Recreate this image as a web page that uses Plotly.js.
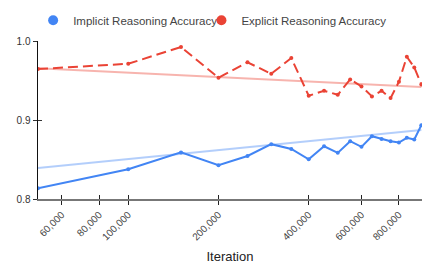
<!DOCTYPE html>
<html>
<head>
<meta charset="utf-8">
<script src="https://cdn.plot.ly/plotly-3.0.1.min.js"></script>
<style>html,body{margin:0;padding:0;background:#fff;}#chart{width:436px;height:270px;}</style>
</head>
<body>
<div id="chart"></div>
<script>
const iterations = [50000,100000,150000,200000,250000,300000,350000,400000,450000,500000,550000,600000,650000,700000,750000,800000,850000,900000,950000];
const implicitAcc = [0.8136,0.8377,0.859,0.8427,0.8545,0.8694,0.8634,0.8503,0.8668,0.8584,0.8732,0.866,0.8795,0.8761,0.8732,0.8715,0.8774,0.8753,0.8935];
const explicitAcc = [0.9645,0.9712,0.9924,0.9535,0.973,0.9585,0.9784,0.9307,0.937,0.9319,0.9514,0.9425,0.9299,0.937,0.9277,0.9484,0.980,0.9666,0.945];
const tickVals = [60000,80000,100000,200000,400000,600000,800000];
const tickText = ["60,000","80,000","100,000","200,000","400,000","600,000","800,000"];
const seriesNames = ["Implicit Reasoning Accuracy","Explicit Reasoning Accuracy"];

// linear least-squares trend (in data space), drawn between first and last iteration
function linTrend(xs, ys){
  const n = xs.length;
  const mx = xs.reduce((a,b)=>a+b,0)/n, my = ys.reduce((a,b)=>a+b,0)/n;
  let sxy=0,sxx=0;
  for(let i=0;i<n;i++){sxy+=(xs[i]-mx)*(ys[i]-my);sxx+=(xs[i]-mx)**2;}
  const b=sxy/sxx, a=my-b*mx;
  const ends=[xs[0],xs[n-1]];
  return {x:ends,y:ends.map(v=>a+b*v)};
}
const blue='#4285F4', red='#EA4335';
const font='Liberation Sans, Arial, sans-serif';
const tb=linTrend(iterations,implicitAcc), tr=linTrend(iterations,explicitAcc);
const traces = [
  {x:tb.x,y:tb.y,mode:'lines',line:{color:'rgba(66,133,244,0.4)',width:2},showlegend:false,hoverinfo:'skip'},
  {x:tr.x,y:tr.y,mode:'lines',line:{color:'rgba(234,67,53,0.4)',width:2},showlegend:false,hoverinfo:'skip'},
  {x:iterations,y:implicitAcc,mode:'lines+markers',line:{color:blue,width:2},marker:{color:blue,size:4},showlegend:false},
  {x:iterations,y:explicitAcc,mode:'lines+markers',line:{color:red,width:2,dash:'10px,5px'},marker:{color:red,size:4},showlegend:false},
  {x:[null],y:[null],mode:'markers',marker:{color:blue,size:10},name:seriesNames[0],legend:'legend'},
  {x:[null],y:[null],mode:'markers',marker:{color:red,size:10},name:seriesNames[1],legend:'legend2'},
  {x:[null],y:[null],xaxis:'x2',yaxis:'y2',showlegend:false,hoverinfo:'skip'}
];
const xr=[Math.log10(50000),Math.log10(955000)];
const legBase={orientation:'h',xref:'container',yref:'container',xanchor:'left',y:0.925,yanchor:'middle',
    font:{size:11.5,color:'#444'},itemwidth:30,bgcolor:'rgba(0,0,0,0)'};
const layout = {
  width:436,height:270,
  margin:{l:38,r:14,t:41,b:71},
  paper_bgcolor:'#fff',plot_bgcolor:'#fff',
  font:{family:font,size:10,color:'#444'},
  showlegend:true,
  legend:Object.assign({},legBase,{x:0.076}),
  legend2:Object.assign({},legBase,{x:0.462}),
  xaxis:{type:'log',range:xr,tickvals:tickVals,ticktext:tickText,tickangle:-45,ticks:'outside',ticklen:4,tickcolor:'#222',tickwidth:1,
    showline:true,linecolor:'#777',linewidth:2,showgrid:false,zeroline:false,tickfont:{size:10,color:'#444'},
    title:{text:'Iteration',font:{size:13,color:'#222'},standoff:10},automargin:false},
  yaxis:{range:[0.8,1.0],tickvals:[0.8,0.9,1.0],ticktext:['0.8','0.9','1.0'],ticks:'outside',ticklen:4,tickcolor:'#333',tickwidth:1,
    showline:true,linecolor:'#111',linewidth:1.5,showgrid:false,zeroline:false,tickfont:{size:10,color:'#333'},automargin:false},
  xaxis2:{type:'log',range:xr,overlaying:'x',anchor:'y2',side:'bottom',tickvals:tickVals,showticklabels:false,ticks:'inside',ticklen:4,tickcolor:'#222',showline:false,showgrid:false,zeroline:false},
  yaxis2:{range:[0.8,1.0],overlaying:'y',anchor:'x2',tickvals:[0.8,0.9,1.0],showticklabels:false,ticks:'inside',ticklen:4,tickcolor:'#333',showline:false,showgrid:false,zeroline:false}
};
Plotly.newPlot('chart',traces,layout,{displayModeBar:false,staticPlot:true});
</script>
</body>
</html>
